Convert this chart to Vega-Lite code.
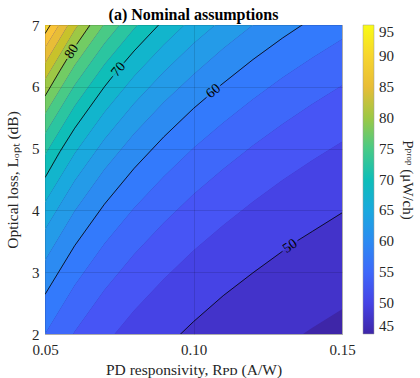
{
  "$schema": "https://vega.github.io/schema/vega-lite/v6.json",
  "width": 297,
  "height": 309,
  "autosize": "none",
  "padding": {"left": 45, "top": 25, "right": 78, "bottom": 44},
  "background": "white",
  "title": {"text": "(a) Nominal assumptions", "font": "Liberation Serif", "fontSize": 16, "fontWeight": "bold", "anchor": "middle", "offset": 7, "dy": 25, "baseline": "alphabetic", "color": "#000000"},
  "config": {
    "view": {"fill": "#3E26A8", "stroke": "#c4c4c4", "strokeWidth": 1},
    "font": "Liberation Serif"
  },
  "datasets": {
    "bands": [
      {"R": 0.09, "level": 47.5, "lo": 0.18, "hi": 1.74},
      {"R": 0.10, "level": 47.5, "lo": 0.64, "hi": 2.20},
      {"R": 0.11, "level": 47.5, "lo": 1.05, "hi": 2.62},
      {"R": 0.12, "level": 47.5, "lo": 1.43, "hi": 2.99},
      {"R": 0.13, "level": 47.5, "lo": 1.78, "hi": 3.34},
      {"R": 0.14, "level": 47.5, "lo": 2.10, "hi": 3.66},
      {"R": 0.15, "level": 47.5, "lo": 2.40, "hi": 3.96},
      {"R": 0.07, "level": 50, "lo": 0.65, "hi": 1.80},
      {"R": 0.08, "level": 50, "lo": 1.23, "hi": 2.38},
      {"R": 0.09, "level": 50, "lo": 1.74, "hi": 2.89},
      {"R": 0.10, "level": 50, "lo": 2.20, "hi": 3.35},
      {"R": 0.11, "level": 50, "lo": 2.62, "hi": 3.76},
      {"R": 0.12, "level": 50, "lo": 2.99, "hi": 4.14},
      {"R": 0.13, "level": 50, "lo": 3.34, "hi": 4.49},
      {"R": 0.14, "level": 50, "lo": 3.66, "hi": 4.81},
      {"R": 0.15, "level": 50, "lo": 3.96, "hi": 5.11},
      {"R": 0.05, "level": 52.5, "lo": 0.34, "hi": 1.25},
      {"R": 0.06, "level": 52.5, "lo": 1.13, "hi": 2.04},
      {"R": 0.07, "level": 52.5, "lo": 1.80, "hi": 2.71},
      {"R": 0.08, "level": 52.5, "lo": 2.38, "hi": 3.29},
      {"R": 0.09, "level": 52.5, "lo": 2.89, "hi": 3.80},
      {"R": 0.10, "level": 52.5, "lo": 3.35, "hi": 4.26},
      {"R": 0.11, "level": 52.5, "lo": 3.76, "hi": 4.67},
      {"R": 0.12, "level": 52.5, "lo": 4.14, "hi": 5.05},
      {"R": 0.13, "level": 52.5, "lo": 4.49, "hi": 5.40},
      {"R": 0.14, "level": 52.5, "lo": 4.81, "hi": 5.72},
      {"R": 0.15, "level": 52.5, "lo": 5.11, "hi": 6.02},
      {"R": 0.05, "level": 55, "lo": 1.25, "hi": 2.00},
      {"R": 0.06, "level": 55, "lo": 2.04, "hi": 2.79},
      {"R": 0.07, "level": 55, "lo": 2.71, "hi": 3.46},
      {"R": 0.08, "level": 55, "lo": 3.29, "hi": 4.04},
      {"R": 0.09, "level": 55, "lo": 3.80, "hi": 4.55},
      {"R": 0.10, "level": 55, "lo": 4.26, "hi": 5.01},
      {"R": 0.11, "level": 55, "lo": 4.67, "hi": 5.42},
      {"R": 0.12, "level": 55, "lo": 5.05, "hi": 5.80},
      {"R": 0.13, "level": 55, "lo": 5.40, "hi": 6.15},
      {"R": 0.14, "level": 55, "lo": 5.72, "hi": 6.47},
      {"R": 0.15, "level": 55, "lo": 6.02, "hi": 6.77},
      {"R": 0.05, "level": 57.5, "lo": 2.00, "hi": 2.64},
      {"R": 0.06, "level": 57.5, "lo": 2.79, "hi": 3.43},
      {"R": 0.07, "level": 57.5, "lo": 3.46, "hi": 4.10},
      {"R": 0.08, "level": 57.5, "lo": 4.04, "hi": 4.68},
      {"R": 0.09, "level": 57.5, "lo": 4.55, "hi": 5.19},
      {"R": 0.10, "level": 57.5, "lo": 5.01, "hi": 5.65},
      {"R": 0.11, "level": 57.5, "lo": 5.42, "hi": 6.06},
      {"R": 0.12, "level": 57.5, "lo": 5.80, "hi": 6.44},
      {"R": 0.13, "level": 57.5, "lo": 6.15, "hi": 6.79},
      {"R": 0.14, "level": 57.5, "lo": 6.47, "hi": 7.11},
      {"R": 0.15, "level": 57.5, "lo": 6.77, "hi": 7.41},
      {"R": 0.05, "level": 60, "lo": 2.64, "hi": 3.19},
      {"R": 0.06, "level": 60, "lo": 3.43, "hi": 3.99},
      {"R": 0.07, "level": 60, "lo": 4.10, "hi": 4.66},
      {"R": 0.08, "level": 60, "lo": 4.68, "hi": 5.24},
      {"R": 0.09, "level": 60, "lo": 5.19, "hi": 5.75},
      {"R": 0.10, "level": 60, "lo": 5.65, "hi": 6.20},
      {"R": 0.11, "level": 60, "lo": 6.06, "hi": 6.62},
      {"R": 0.12, "level": 60, "lo": 6.44, "hi": 7.00},
      {"R": 0.13, "level": 60, "lo": 6.79, "hi": 7.34},
      {"R": 0.14, "level": 60, "lo": 7.11, "hi": 7.67},
      {"R": 0.05, "level": 62.5, "lo": 3.19, "hi": 3.69},
      {"R": 0.06, "level": 62.5, "lo": 3.99, "hi": 4.48},
      {"R": 0.07, "level": 62.5, "lo": 4.66, "hi": 5.15},
      {"R": 0.08, "level": 62.5, "lo": 5.24, "hi": 5.73},
      {"R": 0.09, "level": 62.5, "lo": 5.75, "hi": 6.24},
      {"R": 0.10, "level": 62.5, "lo": 6.20, "hi": 6.70},
      {"R": 0.11, "level": 62.5, "lo": 6.62, "hi": 7.11},
      {"R": 0.12, "level": 62.5, "lo": 7.00, "hi": 7.49},
      {"R": 0.13, "level": 62.5, "lo": 7.34, "hi": 7.84},
      {"R": 0.05, "level": 65, "lo": 3.69, "hi": 4.13},
      {"R": 0.06, "level": 65, "lo": 4.48, "hi": 4.92},
      {"R": 0.07, "level": 65, "lo": 5.15, "hi": 5.59},
      {"R": 0.08, "level": 65, "lo": 5.73, "hi": 6.17},
      {"R": 0.09, "level": 65, "lo": 6.24, "hi": 6.68},
      {"R": 0.10, "level": 65, "lo": 6.70, "hi": 7.14},
      {"R": 0.11, "level": 65, "lo": 7.11, "hi": 7.56},
      {"R": 0.05, "level": 67.5, "lo": 4.13, "hi": 4.53},
      {"R": 0.06, "level": 67.5, "lo": 4.92, "hi": 5.33},
      {"R": 0.07, "level": 67.5, "lo": 5.59, "hi": 6.00},
      {"R": 0.08, "level": 67.5, "lo": 6.17, "hi": 6.58},
      {"R": 0.09, "level": 67.5, "lo": 6.68, "hi": 7.09},
      {"R": 0.10, "level": 67.5, "lo": 7.14, "hi": 7.54},
      {"R": 0.05, "level": 70, "lo": 4.53, "hi": 4.90},
      {"R": 0.06, "level": 70, "lo": 5.33, "hi": 5.69},
      {"R": 0.07, "level": 70, "lo": 6.00, "hi": 6.36},
      {"R": 0.08, "level": 70, "lo": 6.58, "hi": 6.94},
      {"R": 0.09, "level": 70, "lo": 7.09, "hi": 7.45},
      {"R": 0.05, "level": 72.5, "lo": 4.90, "hi": 5.24},
      {"R": 0.06, "level": 72.5, "lo": 5.69, "hi": 6.03},
      {"R": 0.07, "level": 72.5, "lo": 6.36, "hi": 6.70},
      {"R": 0.08, "level": 72.5, "lo": 6.94, "hi": 7.28},
      {"R": 0.09, "level": 72.5, "lo": 7.45, "hi": 7.79},
      {"R": 0.05, "level": 75, "lo": 5.24, "hi": 5.56},
      {"R": 0.06, "level": 75, "lo": 6.03, "hi": 6.35},
      {"R": 0.07, "level": 75, "lo": 6.70, "hi": 7.02},
      {"R": 0.08, "level": 75, "lo": 7.28, "hi": 7.60},
      {"R": 0.05, "level": 77.5, "lo": 5.56, "hi": 5.85},
      {"R": 0.06, "level": 77.5, "lo": 6.35, "hi": 6.64},
      {"R": 0.07, "level": 77.5, "lo": 7.02, "hi": 7.31},
      {"R": 0.05, "level": 80, "lo": 5.85, "hi": 6.12},
      {"R": 0.06, "level": 80, "lo": 6.64, "hi": 6.92},
      {"R": 0.07, "level": 80, "lo": 7.31, "hi": 7.59},
      {"R": 0.05, "level": 82.5, "lo": 6.12, "hi": 6.38},
      {"R": 0.06, "level": 82.5, "lo": 6.92, "hi": 7.18},
      {"R": 0.07, "level": 82.5, "lo": 7.59, "hi": 7.84},
      {"R": 0.05, "level": 85, "lo": 6.38, "hi": 6.63},
      {"R": 0.06, "level": 85, "lo": 7.18, "hi": 7.42},
      {"R": 0.05, "level": 87.5, "lo": 6.63, "hi": 6.86},
      {"R": 0.06, "level": 87.5, "lo": 7.42, "hi": 7.65},
      {"R": 0.05, "level": 90, "lo": 6.86, "hi": 7.08},
      {"R": 0.06, "level": 90, "lo": 7.65, "hi": 7.87}
    ],
    "lines": [
      {"R": 0.05, "L": 5.85, "seg": "80a"},
      {"R": 0.055, "L": 6.26, "seg": "80a"},
      {"R": 0.0574, "L": 6.45, "seg": "80a"},
      {"R": 0.0607, "L": 6.69, "seg": "80b"},
      {"R": 0.065, "L": 6.99, "seg": "80b"},
      {"R": 0.07, "L": 7.31, "seg": "80b"},
      {"R": 0.05, "L": 4.53, "seg": "70a"},
      {"R": 0.055, "L": 4.95, "seg": "70a"},
      {"R": 0.06, "L": 5.33, "seg": "70a"},
      {"R": 0.07, "L": 6.00, "seg": "70a"},
      {"R": 0.0728, "L": 6.17, "seg": "70a"},
      {"R": 0.0766, "L": 6.39, "seg": "70b"},
      {"R": 0.08, "L": 6.58, "seg": "70b"},
      {"R": 0.09, "L": 7.09, "seg": "70b"},
      {"R": 0.05, "L": 2.64, "seg": "60a"},
      {"R": 0.06, "L": 3.43, "seg": "60a"},
      {"R": 0.07, "L": 4.10, "seg": "60a"},
      {"R": 0.08, "L": 4.68, "seg": "60a"},
      {"R": 0.09, "L": 5.19, "seg": "60a"},
      {"R": 0.10, "L": 5.65, "seg": "60a"},
      {"R": 0.1044, "L": 5.83, "seg": "60a"},
      {"R": 0.109, "L": 6.02, "seg": "60b"},
      {"R": 0.12, "L": 6.44, "seg": "60b"},
      {"R": 0.13, "L": 6.79, "seg": "60b"},
      {"R": 0.14, "L": 7.11, "seg": "60b"},
      {"R": 0.08, "L": 1.23, "seg": "50a"},
      {"R": 0.09, "L": 1.74, "seg": "50a"},
      {"R": 0.10, "L": 2.20, "seg": "50a"},
      {"R": 0.11, "L": 2.62, "seg": "50a"},
      {"R": 0.12, "L": 2.99, "seg": "50a"},
      {"R": 0.13, "L": 3.34, "seg": "50a"},
      {"R": 0.135, "L": 3.51, "seg": "50b"},
      {"R": 0.14, "L": 3.66, "seg": "50b"},
      {"R": 0.15, "L": 3.96, "seg": "50b"},
      {"R": 0.05, "L": 6.86, "seg": "90"},
      {"R": 0.06, "L": 7.65, "seg": "90"}
    ]
  },
  "layer": [
    {
      "data": {"name": "bands"},
      "mark": {"type": "area", "clip": true, "orient": "vertical", "opacity": 1, "interpolate": "linear"},
      "encoding": {
        "x": {
          "field": "R", "type": "quantitative",
          "scale": {"domain": [0.05, 0.15], "nice": false, "zero": false},
          "axis": {
            "values": [0.05, 0.1, 0.15], "format": ".2f",
            "title": "PD responsivity, Rᴘᴅ (A/W)",
            "grid": true, "gridColor": "#000000", "gridOpacity": 0.12, "gridWidth": 1,
            "domain": false, "tickSize": 0, "zindex": 1, "labelFlush": false,
            "labelFont": "Liberation Serif", "titleFont": "Liberation Serif",
            "labelFontSize": 15, "titleFontSize": 15.5, "titleFontWeight": "normal",
            "labelColor": "#262626", "titleColor": "#262626",
            "labelPadding": 8, "titlePadding": 5
          }
        },
        "y": {
          "field": "lo", "type": "quantitative", "stack": null,
          "scale": {"domain": [2, 7], "nice": false, "zero": false},
          "axis": {
            "values": [2, 3, 4, 5, 6, 7], "format": "d",
            "title": "Optical loss, Lₒₚₜ (dB)",
            "grid": true, "gridColor": "#000000", "gridOpacity": 0.12, "gridWidth": 1,
            "domain": false, "tickSize": 0, "zindex": 1, "labelFlush": false,
            "labelFont": "Liberation Serif", "titleFont": "Liberation Serif",
            "labelFontSize": 15, "titleFontSize": 15.5, "titleFontWeight": "normal",
            "labelColor": "#262626", "titleColor": "#262626",
            "labelPadding": 6, "titlePadding": 11
          }
        },
        "y2": {"field": "hi"},
        "detail": {"field": "level"},
        "color": {
          "field": "level", "type": "quantitative",
          "scale": {
            "domain": [45, 48.97, 52.94, 57.7, 61.67, 65.63, 69.6, 74.37, 78.33, 82.3, 86.27, 91.03, 95],
            "range": ["#3E26A8", "#463BDE", "#4758F8", "#327CFC", "#2796EB", "#18ADDB", "#0BBDBC", "#3FCA8E", "#80CC59", "#C5C22A", "#F8BA3D", "#F7DC2A", "#F9FB15"],
            "interpolate": "rgb"
          },
          "legend": {
            "title": "Pᵖʳᵒᵖ (μW/ch)",
            "orient": "right", "offset": 21, "direction": "vertical",
            "gradientLength": 309, "gradientThickness": 11,
            "gradientStrokeColor": "#9a9a9a", "gradientStrokeWidth": 0.5,
            "values": [45, 50, 55, 60, 65, 70, 75, 80, 85, 90, 95],
            "labelFont": "Liberation Serif", "labelFontSize": 15, "labelColor": "#262626",
            "labelOffset": 5, "labelOverlap": false, "labelBaseline": "middle",
            "titleOrient": "right", "titleAnchor": "middle",
            "titleFont": "Liberation Serif", "titleFontSize": 15, "titleFontWeight": "normal",
            "titleColor": "#262626", "titlePadding": 6
          }
        }
      }
    },
    {
      "data": {"name": "lines"},
      "mark": {"type": "line", "clip": true, "color": "#000000", "strokeWidth": 0.8},
      "encoding": {
        "x": {"field": "R", "type": "quantitative"},
        "y": {"field": "L", "type": "quantitative"},
        "detail": {"field": "seg"}
      }
    },
    {
      "data": {"values": [{"R": 0.059, "L": 6.57, "t": "80"}]},
      "mark": {"type": "text", "angle": -57, "font": "Liberation Serif", "fontSize": 14, "color": "#000000", "align": "center", "baseline": "middle"},
      "encoding": {"x": {"field": "R", "type": "quantitative"}, "y": {"field": "L", "type": "quantitative"}, "text": {"field": "t"}}
    },
    {
      "data": {"values": [{"R": 0.0747, "L": 6.28, "t": "70"}]},
      "mark": {"type": "text", "angle": -50, "font": "Liberation Serif", "fontSize": 14, "color": "#000000", "align": "center", "baseline": "middle"},
      "encoding": {"x": {"field": "R", "type": "quantitative"}, "y": {"field": "L", "type": "quantitative"}, "text": {"field": "t"}}
    },
    {
      "data": {"values": [{"R": 0.1067, "L": 5.93, "t": "60"}]},
      "mark": {"type": "text", "angle": -40, "font": "Liberation Serif", "fontSize": 14, "color": "#000000", "align": "center", "baseline": "middle"},
      "encoding": {"x": {"field": "R", "type": "quantitative"}, "y": {"field": "L", "type": "quantitative"}, "text": {"field": "t"}}
    },
    {
      "data": {"values": [{"R": 0.1325, "L": 3.42, "t": "50"}]},
      "mark": {"type": "text", "angle": -34, "font": "Liberation Serif", "fontSize": 14, "color": "#000000", "align": "center", "baseline": "middle"},
      "encoding": {"x": {"field": "R", "type": "quantitative"}, "y": {"field": "L", "type": "quantitative"}, "text": {"field": "t"}}
    }
  ]
}
